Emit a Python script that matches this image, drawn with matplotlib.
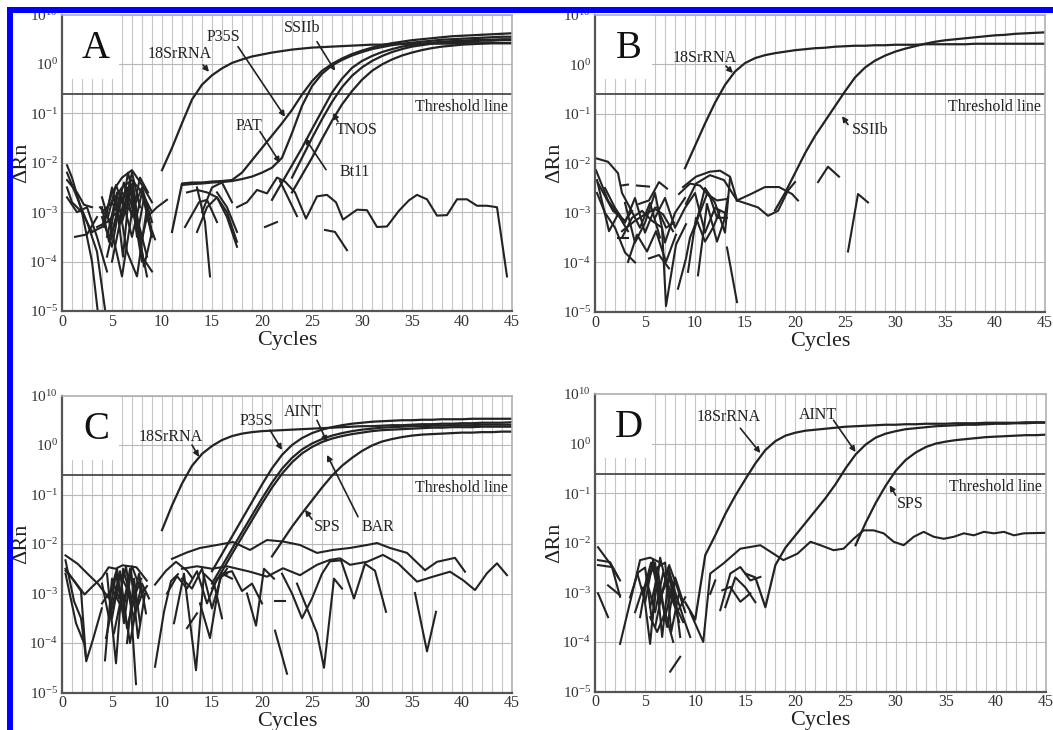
import numpy as np
import matplotlib
matplotlib.use('Agg')
from matplotlib import pyplot as plt
from matplotlib.patches import Rectangle
from matplotlib.ticker import MultipleLocator, FixedLocator, NullLocator

plt.rcParams['font.family'] = ['Liberation Serif', 'DejaVu Serif']
plt.rcParams['mathtext.fontset'] = 'custom'
plt.rcParams['mathtext.rm'] = 'Liberation Serif'
plt.rcParams['mathtext.it'] = 'Liberation Serif:italic'
plt.rcParams['mathtext.bf'] = 'Liberation Serif:bold'

# all curve values are log10(ΔRn); x = cycle number
THRESHOLD = 0.245
ytick_labels = ['10$^{-5}$', '10$^{-4}$', '10$^{-3}$', '10$^{-2}$', '10$^{-1}$', '10$^{0}$', '10$^{10}$']

# ---------- panel A ----------
A_18S_start = 10
A_18S = [-2.15, -1.7, -1.2, -0.72, -0.42, -0.23, -0.09, 0.02, 0.09, 0.15, 0.19, 0.23, 0.26, 0.29, 0.31,
         0.33, 0.34, 0.35, 0.36, 0.37, 0.38, 0.39, 0.39, 0.4, 0.4, 0.4, 0.41, 0.41, 0.41, 0.41,
         0.42, 0.42, 0.42, 0.42, 0.42, 0.42]
A_P35S_start = 11
A_P35S = [-3.4, -2.42, -2.4, -2.4, -2.38, -2.37, -2.35, -2.2, -1.95, -1.7, -1.45, -1.2, -0.93, -0.62, -0.35,
          -0.14, 0.0, 0.11, 0.2, 0.27, 0.33, 0.38, 0.42, 0.45, 0.48, 0.5, 0.52, 0.54, 0.56, 0.57,
          0.58, 0.59, 0.6, 0.61, 0.62]
A_PAT_start = 12
A_PAT = [-2.45, -2.43, -2.42, -2.4, -2.39, -2.37, -2.33, -2.28, -2.2, -2.1, -1.9, -1.4, -0.85, -0.45, -0.2,
         -0.03, 0.08, 0.17, 0.24, 0.3, 0.34, 0.38, 0.41, 0.43, 0.45, 0.47, 0.49, 0.5, 0.51, 0.52,
         0.53, 0.54, 0.55, 0.55]
A_SSIIb_start = 21
A_SSIIb = [-2.75, -2.4, -2.05, -1.7, -1.32, -0.95, -0.58, -0.3, -0.08, 0.06, 0.16, 0.24, 0.3, 0.35, 0.38,
           0.41, 0.43, 0.45, 0.46, 0.47, 0.48, 0.49, 0.49, 0.5, 0.5]
A_Bt11_start = 23
A_Bt11 = [-2.3, -1.9, -1.5, -1.12, -0.77, -0.47, -0.24, -0.07, 0.06, 0.16, 0.24, 0.3, 0.35, 0.38, 0.41,
          0.43, 0.44, 0.45, 0.46, 0.47, 0.47, 0.48, 0.48]
A_TNOS_start = 23
A_TNOS = [-2.6, -2.25, -1.9, -1.52, -1.15, -0.82, -0.55, -0.32, -0.14, -0.01, 0.09, 0.17, 0.23, 0.28, 0.32,
          0.35, 0.37, 0.39, 0.4, 0.41, 0.42, 0.42, 0.42]
A_noise = [
    ([0.5, 1, 2, 3, 3.8], [-2.05, -2.3, -3.0, -4.0, -5.4]),
    ([0.5, 1.5, 2.5, 3.5, 4.6], [-2.2, -2.7, -3.2, -3.8, -5.4]),
    ([0.5, 1, 2, 3], [-2.5, -2.8, -3.0, -3.4]),
    ([0.5, 1.5, 2.5, 3.5, 4.5], [-2.7, -3.0, -2.9, -3.5, -4.2]),
    ([1.3, 2.5, 3.5], [-3.5, -3.45, -3.1]),
    ([0.5, 1.5, 2.2, 3.0], [-2.35, -2.6, -2.85, -2.9]),
    ([3, 4, 5, 6, 7, 8, 9], [-3.4, -3.3, -2.6, -2.3, -2.15, -2.45, -2.8]),
    ([4, 5, 6, 7, 8, 9], [-3.0, -2.8, -2.5, -2.35, -2.6, -3.5]),
    ([4.5, 5.5, 6.5, 7.5, 8.5], [-3.9, -3.0, -2.5, -3.3, -4.3]),
    ([4, 5, 6, 7, 8, 9], [-2.7, -3.4, -4.3, -3.0, -2.5, -3.2]),
    ([4.5, 5.5, 6.5, 7.5, 8.5], [-3.5, -2.6, -3.8, -4.3, -2.9]),
    ([5, 6, 7, 8, 9], [-2.8, -3.2, -2.5, -3.9, -4.2]),
    ([4, 5, 6, 7, 8], [-3.1, -3.7, -2.6, -2.8, -4.0]),
    ([5, 6, 7, 8, 9], [-3.4, -2.7, -3.5, -2.6, -3.0]),
    ([3.5, 4.5, 5.5, 6.5, 7.5, 8.5], [-3.3, -3.2, -3.0, -2.9, -3.1, -3.9]),
    ([5.5, 6.2, 7, 7.8, 8.6], [-2.9, -2.4, -3.1, -2.3, -2.6]),
    ([4, 4.7, 5.4, 6.1, 6.8, 7.5, 8.2, 8.9], [-2.9, -3.6, -2.7, -3.9, -2.4, -3.5, -2.7, -3.3]),
    ([4.2, 5, 5.8, 6.6, 7.4, 8.2, 9], [-3.3, -2.5, -3.2, -2.2, -2.9, -4.1, -3.4]),
    ([5, 5.7, 6.4, 7.1, 7.8, 8.5], [-4.0, -3.3, -2.8, -2.4, -3.7, -3.1]),
    ([3.8, 4.6, 5.4, 6.2, 7, 7.8], [-2.9, -3.1, -2.45, -2.9, -2.2, -2.9]),
    ([8.5, 9.5, 10.5], [-3.1, -2.9, -2.75]),
    ([8.5, 9.3], [-3.1, -3.55]),
    ([12.3, 13.7, 14.5, 15.5], [-3.3, -2.8, -2.75, -3.2]),
    ([13.5, 14.5, 15.5, 16.5, 17.5], [-3.4, -2.9, -2.7, -3.1, -3.7]),
    ([13.5, 14.3, 14.8], [-2.5, -3.2, -4.3]),
    ([15.5, 16.5, 17.5], [-2.6, -2.9, -3.4]),
    ([14, 15, 16, 17], [-3.0, -2.5, -2.4, -2.8]),
    ([12.5, 13.5, 14.5, 15.5, 16.5, 17.5], [-2.6, -2.55, -2.6, -2.7, -3.0, -3.6]),
    ([20.3, 21.5], [-3.3, -3.2]),
    ([21.8, 23.5], [-2.37, -3.08]),
    ([26.3, 27.3, 28.5], [-3.36, -3.4, -3.77]),
    ([17.5, 18.5, 19.5, 20.5, 21.5, 22.3, 23.3, 24.4, 25.5, 26.5, 27.4, 28.1, 29.5, 30.5, 31.5, 32.5,
      33.7, 34.7, 35.5, 36.5, 37.5, 38.5, 39.5, 40.5, 41.5, 42.5, 43.5, 44.5],
     [-2.9, -2.8, -2.55, -2.62, -2.3, -2.38, -2.6, -3.13, -2.68, -2.65, -2.8, -3.15, -2.95, -2.96, -3.3, -3.29,
      -2.97, -2.76, -2.65, -2.74, -3.07, -3.06, -2.74, -2.74, -2.87, -2.87, -2.9, -4.3]),
]

# ---------- panel B ----------
B_18S_start = 9
B_18S = [-2.1, -1.65, -1.2, -0.78, -0.42, -0.15, 0.02, 0.12, 0.18, 0.22, 0.25, 0.28, 0.3, 0.32, 0.33,
         0.35, 0.36, 0.37, 0.37, 0.38, 0.38, 0.39, 0.39, 0.39, 0.4, 0.4, 0.4, 0.4, 0.4, 0.41,
         0.41, 0.41, 0.41, 0.41, 0.41, 0.41, 0.41]
B_SSIIb_start = 18
B_SSIIb = [-2.95, -2.6, -2.2, -1.8, -1.45, -1.15, -0.85, -0.55, -0.27, -0.07, 0.07, 0.17, 0.25, 0.31, 0.36,
           0.41, 0.45, 0.48, 0.5, 0.52, 0.54, 0.56, 0.58, 0.59, 0.61, 0.62, 0.63, 0.64]
B_noise = [
    ([0.1, 1.3, 2.3, 2.7, 3.5], [-1.9, -1.97, -2.2, -2.6, -2.9]),
    ([0.1, 1.3, 2.5, 3.3], [-2.14, -2.75, -3.1, -3.37]),
    ([0.2, 1.4, 2.3], [-2.34, -3.37, -3.03]),
    ([0.3, 1.8, 3.0, 3.7], [-2.4, -2.96, -3.16, -2.96]),
    ([0.2, 1, 2, 3, 4], [-2.6, -3.0, -3.3, -3.8, -4.0]),
    ([1, 2, 3, 4, 5, 6], [-2.5, -2.9, -3.2, -2.7, -3.4, -2.9]),
    ([2.6, 3.3], [-2.45, -2.43]),
    ([4.2, 5.4], [-2.45, -2.47]),
    ([2.3, 3.3], [-3.5, -3.5]),
    ([3.5, 4.5, 5.5, 6.5], [-2.9, -3.3, -2.8, -3.5]),
    ([3, 4, 5, 6, 7, 8, 9], [-2.8, -3.6, -3.2, -2.6, -3.6, -3.0, -2.7]),
    ([2.7, 3.7, 4.7, 5.7, 6.7, 7.1, 8.1, 9.1], [-3.5, -3.1, -2.96, -3.16, -3.3, -4.88, -3.64, -3.23]),
    ([3.3, 4.2, 5.2, 6.1, 7.1, 8.1], [-3.99, -3.44, -3.78, -3.37, -3.99, -3.44]),
    ([2.7, 4, 5, 6, 6.8, 7.8], [-3.37, -3.16, -3.03, -2.92, -3.03, -3.37]),
    ([4.4, 5.4, 6.4, 7.2], [-2.82, -2.75, -2.38, -2.51]),
    ([5.4, 6.4, 7.4], [-3.92, -3.85, -4.12]),
    ([6, 7, 8, 9, 10, 11, 12, 13], [-3.1, -2.7, -3.3, -2.9, -2.6, -3.4, -2.9, -3.0]),
    ([10, 11, 12, 13, 13.5], [-3.3, -2.5, -2.8, -3.4, -2.3]),
    ([8.4, 9.5, 10.5, 11.5, 12.2, 13.2], [-2.62, -2.41, -2.45, -2.68, -3.1, -3.1]),
    ([8.8, 10.1, 11.5, 12.5, 13.5, 14.2], [-2.48, -2.27, -2.17, -2.15, -2.27, -2.75]),
    ([9.1, 10.1, 11.5, 12.9, 14.2], [-2.82, -2.41, -2.24, -2.34, -2.75]),
    ([8.3, 9.1, 9.5, 10.3, 11.2, 12.2, 13.2], [-4.53, -3.92, -3.5, -3.1, -2.62, -2.75, -2.72]),
    ([9.3, 10.1, 11, 11.8, 12.5], [-4.19, -3.1, -3.58, -3.3, -2.96]),
    ([10.3, 11.2, 12.2, 12.9, 13.3], [-4.26, -2.82, -3.58, -3.16, -2.68]),
    ([6.2, 7.1, 7.9], [-2.89, -3.3, -3.2]),
    ([13.2, 14.2], [-3.7, -4.8]),
    ([14.2, 15.6, 17, 18.4, 19.7, 20.3], [-2.75, -2.62, -2.48, -2.48, -2.62, -2.75]),
    ([14.2, 16.3, 17.3, 18.3, 19.3, 20], [-2.75, -2.89, -3.06, -2.96, -2.55, -2.38]),
    ([22.3, 23.3, 24.4], [-2.38, -2.07, -2.27]),
    ([25.3, 26.3, 27.3], [-3.78, -2.62, -2.79]),
]

# ---------- panel C ----------
C_18S_start = 10
C_18S = [-1.72, -1.22, -0.78, -0.42, -0.18, -0.02, 0.1, 0.18, 0.23, 0.26, 0.28, 0.29, 0.3, 0.31, 0.32,
         0.33, 0.34, 0.35, 0.36, 0.37, 0.38, 0.38, 0.39, 0.4, 0.4, 0.41, 0.42, 0.42, 0.43, 0.43,
         0.44, 0.44, 0.45, 0.45, 0.45, 0.46]
C_P35S_start = 15
C_P35S = [-2.55, -2.2, -1.85, -1.5, -1.15, -0.8, -0.47, -0.2, 0.0, 0.14, 0.24, 0.31, 0.36, 0.4, 0.43,
          0.45, 0.47, 0.48, 0.49, 0.5, 0.5, 0.51, 0.51, 0.52, 0.52, 0.52, 0.53, 0.53, 0.53, 0.53, 0.53]
C_AINT_start = 15
C_AINT = [-2.8, -2.45, -2.1, -1.76, -1.42, -1.08, -0.76, -0.48, -0.26, -0.09, 0.03, 0.12, 0.19, 0.24, 0.28,
          0.31, 0.33, 0.35, 0.36, 0.37, 0.38, 0.38, 0.39, 0.39, 0.4, 0.4, 0.4, 0.41, 0.41, 0.41, 0.41]
C_BAR_start = 15
C_BAR = [-2.9, -2.55, -2.2, -1.86, -1.52, -1.18, -0.86, -0.58, -0.35, -0.17, -0.04, 0.06, 0.13, 0.18, 0.22,
         0.25, 0.28, 0.3, 0.31, 0.32, 0.33, 0.34, 0.35, 0.35, 0.36, 0.36, 0.36, 0.37, 0.37, 0.37, 0.37]
C_SPS_start = 21
C_SPS = [-2.25, -1.95, -1.65, -1.38, -1.12, -0.86, -0.62, -0.42, -0.26, -0.12, -0.01, 0.07, 0.12, 0.16, 0.19,
         0.21, 0.22, 0.23, 0.24, 0.25, 0.25, 0.26, 0.26, 0.27, 0.27]
C_noise = [
    ([0.35, 1.56, 2.6, 3.63, 4.67], [-2.23, -2.4, -2.61, -2.81, -3.09]),
    ([0.35, 1.21, 1.9, 2.42], [-2.33, -3.16, -3.5, -4.33]),
    ([0.35, 1.9, 2.42, 3.11, 3.98], [-2.5, -2.95, -4.37, -3.92, -3.3]),
    ([0.35, 1.21, 2.25, 2.94, 3.98, 4.67, 5.36, 6.06, 7.44, 8.48],
     [-2.54, -2.74, -3.02, -2.88, -2.68, -2.47, -2.5, -2.43, -2.47, -2.74]),
    ([0.35, 1.4, 2.2], [-2.6, -3.6, -4.0]),
    ([4.3, 5.0, 5.7, 6.4, 7.0, 7.7, 8.4], [-4.35, -2.7, -3.1, -2.45, -3.3, -2.6, -3.4]),
    ([4.5, 5.4, 6.1, 6.8, 7.4], [-2.6, -4.41, -2.5, -3.0, -4.83]),
    ([4.8, 5.5, 6.2, 6.9, 7.6, 8.3], [-3.0, -2.5, -3.6, -2.55, -3.9, -3.0]),
    ([5, 5.8, 6.5, 7.2, 8, 8.7], [-3.5, -2.6, -2.9, -3.5, -2.8, -3.1]),
    ([4, 5, 6, 7, 8, 8.5], [-3.2, -2.9, -3.3, -2.45, -3.0, -2.85]),
    ([5.2, 6, 6.8, 7.5], [-3.8, -3.0, -4.0, -3.2]),
    ([6.5, 7.2, 7.8], [-4.0, -2.7, -3.6]),
    ([4, 4.7, 5.4, 6.1, 6.8, 7.5, 8.2], [-2.8, -3.5, -2.6, -3.4, -2.5, -3.3, -2.9]),
    ([4.4, 5.1, 5.8, 6.5, 7.2, 7.9], [-3.9, -3.2, -2.55, -3.7, -3.1, -2.7]),
    ([9.3, 10.2, 10.9, 11.6], [-4.48, -3.37, -2.75, -2.61]),
    ([9.3, 10.4, 11.4, 12.5, 13.0], [-2.82, -2.54, -2.36, -2.54, -2.68]),
    ([11.2, 12.2, 13.4, 14.2, 15.2, 16.0], [-3.6, -2.6, -4.55, -2.6, -2.8, -3.5]),
    ([12.5, 13.5], [-3.7, -3.4]),
    ([10.5, 11.5, 12.5, 13.5, 14.5, 15.5, 16.5], [-3.0, -2.65, -2.9, -2.55, -3.2, -2.7, -2.6]),
    ([12, 13, 14, 15, 16, 17], [-2.7, -2.9, -2.5, -3.3, -2.6, -2.7]),
    ([13.8, 14.8, 15.8, 16.5], [-3.2, -3.9, -2.7, -2.5]),
    ([16, 17, 18, 19, 20], [-2.6, -2.55, -2.95, -2.8, -3.2]),
    ([18.5, 19.4, 20.2, 21.2], [-3.0, -3.65, -2.5, -2.7]),
    ([21.3, 22.5], [-3.75, -4.62]),
    ([21.3, 22.3], [-3.16, -3.16]),
    ([22.0, 23.0, 24.0, 25.0, 26.0, 26.8, 27.9], [-2.6, -3.0, -3.5, -3.1, -2.6, -2.35, -2.33]),
    ([23.5, 24.5, 25.5, 26.2, 27.2, 28.0], [-2.8, -3.3, -3.8, -4.5, -2.7, -2.9]),
    ([27.9, 29.2, 30.3, 31.3, 32.4], [-2.33, -3.1, -2.4, -2.54, -3.37]),
    ([35.3, 36.5, 37.4], [-2.99, -4.17, -3.37]),
    ([11, 12.5, 13.8, 15.5, 17.1, 18.8, 20.5, 22.1, 23.8, 25.5, 27.1, 28.8, 30.5, 31.5, 32.8, 34.5,
      36.3, 37.5, 39.3, 40.3],
     [-2.3, -2.17, -2.08, -2.02, -1.96, -2.12, -1.92, -1.95, -2.02, -2.18, -2.12, -2.08, -2.02, -1.98, -2.08,
      -2.18, -2.53, -2.36, -2.28, -2.56]),
    ([12, 13.5, 15, 16.5, 18.8, 20.5, 22.1, 23.8, 25.5, 26.8, 27.8, 28.8, 30.5, 32.1, 33.6, 35.5, 37.1,
      38.8, 40.1, 41.3, 42.5, 43.5, 44.5],
     [-2.5, -2.45, -2.5, -2.45, -2.56, -2.66, -2.49, -2.63, -2.42, -2.32, -2.29, -2.42, -2.36, -2.22, -2.39,
      -2.76, -2.66, -2.56, -2.73, -2.93, -2.59, -2.39, -2.63]),
]

# ---------- panel D ----------
D_18S_start = 9
D_18S = [-3.2, -3.55, -2.25, -1.85, -1.42, -1.05, -0.72, -0.4, -0.13, 0.05, 0.16, 0.22, 0.26, 0.28, 0.3,
         0.32, 0.34, 0.35, 0.36, 0.37, 0.38, 0.38, 0.39, 0.39, 0.4, 0.4, 0.4, 0.41, 0.41, 0.41,
         0.42, 0.42, 0.42, 0.42, 0.43, 0.43, 0.43]
D_AINT_start = 15
D_AINT = [-2.62, -2.7, -3.3, -2.45, -2.1, -1.85, -1.6, -1.35, -1.1, -0.82, -0.5, -0.22, -0.02, 0.12, 0.2,
          0.25, 0.29, 0.31, 0.33, 0.35, 0.36, 0.37, 0.38, 0.38, 0.39, 0.4, 0.4, 0.41, 0.41, 0.42, 0.42]
D_SPS_start = 26
D_SPS = [-2.05, -1.6, -1.2, -0.85, -0.55, -0.33, -0.18, -0.07, 0.0, 0.04, 0.07, 0.09, 0.11, 0.13, 0.14,
         0.15, 0.16, 0.17, 0.17, 0.18]
D_noise = [
    ([0.3, 1.5, 2.5], [-2.09, -2.42, -2.76]),
    ([0.3, 1.5, 2.3], [-2.35, -2.39, -2.69]),
    ([0.3, 1.7, 2.5], [-2.45, -2.49, -3.09]),
    ([0.3, 1.3], [-3.02, -3.5]),
    ([1.3, 2.5], [-2.86, -3.06]),
    ([2.5, 3.5, 4.5, 5.5, 6.5], [-4.04, -3.2, -2.35, -2.3, -2.4]),
    ([3.5, 4.3, 5, 5.7, 6.5, 7.2, 8], [-3.1, -2.6, -2.5, -3.6, -2.3, -2.9, -3.3]),
    ([4, 4.8, 5.5, 6.2, 7, 7.6, 8.4], [-3.4, -2.9, -4.04, -2.5, -2.4, -3.8, -3.0]),
    ([4.5, 5.2, 6, 6.7, 7.4, 8.1, 8.8], [-3.5, -2.7, -2.4, -3.9, -2.6, -3.3, -3.6]),
    ([5, 5.8, 6.5, 7.3, 8, 8.8, 9.5], [-2.9, -2.5, -3.2, -2.5, -3.0, -3.5, -3.9]),
    ([5.5, 6.3, 7, 7.8, 8.5], [-3.3, -2.6, -3.5, -2.8, -3.9]),
    ([6, 6.7, 7.4, 8.2, 9], [-3.7, -3.0, -2.7, -3.4, -3.1]),
    ([4.2, 5, 5.8, 6.6, 7.4, 8.2, 9], [-2.6, -3.2, -2.35, -3.1, -2.45, -2.9, -3.4]),
    ([4.8, 5.6, 6.4, 7.2, 8, 8.8], [-3.0, -2.4, -2.9, -3.7, -2.7, -3.2]),
    ([5.2, 6, 6.8, 7.6, 8.4], [-2.8, -3.4, -2.6, -3.0, -3.6]),
    ([7.5, 8.5], [-4.6, -4.3]),
    ([5.5, 6.2, 7, 7.8], [-3.5, -3.8, -3.4, -4.0]),
    ([9.5, 10.8, 11.5, 12.8, 14.5, 16.5, 18.8, 20.2, 21.5, 22.5, 23.8, 24.8, 25.8, 26.8, 27.8, 28.8,
      29.8, 30.8, 31.8, 32.8, 33.8, 34.8, 35.8, 36.8, 37.8, 38.8, 39.8, 40.8, 41.8, 42.8, 45],
     [-3.4, -4.0, -2.62, -2.42, -2.12, -2.05, -2.35, -2.22, -1.98, -2.05, -2.15, -2.12, -1.92, -1.75, -1.75,
      -1.81, -1.98, -2.05, -1.88, -1.78, -1.88, -1.92, -1.88, -1.81, -1.85, -1.78, -1.81, -1.78, -1.85,
      -1.81, -1.8]),
    ([12.5, 13.5, 14.5, 15.5, 16.5], [-3.36, -2.62, -2.49, -2.76, -2.69]),
    ([12.7, 13.5, 14.5, 15.5], [-2.96, -2.89, -3.19, -3.02]),
    ([13, 14, 15, 16], [-3.3, -2.7, -2.9, -3.2]),
    ([11.5, 12.0], [-3.03, -2.76]),
]

# label, text pos, arrow tail, arrow head  (x in cycles, y as log10)
A_ann = [('18SrRNA', 11.8, 0.2, 14.1, -0.02, 14.7, -0.16),
         ('P35S', 16.1, 0.55, 17.6, 0.35, 22.3, -1.07),
         ('SSIIb', 24.0, 0.73, 25.5, 0.45, 27.3, -0.14),
         ('PAT', 18.7, -1.25, 19.8, -1.37, 21.8, -2.0),
         ('TNOS', 29.5, -1.33, 27.6, -1.17, 27.1, -0.99),
         ('Bt11', 29.3, -2.18, 26.4, -2.14, 24.3, -1.5)]
B_ann = [('18SrRNA', 11.0, 0.12, 13.1, -0.04, 13.8, -0.18),
         ('SSIIb', 27.5, -1.33, 25.3, -1.22, 24.7, -1.05)]
C_ann = [('18SrRNA', 10.9, 0.16, 13.0, 0.0, 13.7, -0.24),
         ('P35S', 19.4, 0.49, 20.8, 0.3, 22.0, -0.1),
         ('AINT', 24.1, 0.67, 25.5, 0.5, 26.5, 0.06),
         ('BAR', 31.6, -1.65, 29.6, -1.45, 26.5, -0.2),
         ('SPS', 26.5, -1.66, 25.0, -1.5, 24.3, -1.31)]
D_ann = [('18SrRNA', 13.3, 0.54, 14.5, 0.31, 16.5, -0.19),
         ('AINT', 22.2, 0.58, 23.8, 0.47, 26.0, -0.17),
         ('SPS', 31.5, -1.22, 30.0, -1.04, 29.4, -0.84)]

LINE = '#232323'
W, H = 1053, 730
fig = plt.figure(figsize=(W / 100, H / 100), dpi=100)


def panel(left, right, top, bottom):
    ax = fig.add_axes([left / W, 1 - bottom / H, (right - left) / W, (bottom - top) / H])
    ax.set_yscale('log')
    ax.set_xlim(0, 45)
    ax.set_ylim(1e-5, 10)
    ax.xaxis.set_major_locator(MultipleLocator(5))
    ax.xaxis.set_minor_locator(MultipleLocator(1))
    ax.yaxis.set_major_locator(FixedLocator(10.0 ** np.arange(-5, 2)))
    ax.yaxis.set_minor_locator(NullLocator())
    ax.set_yticklabels(ytick_labels)
    ax.tick_params(which='both', length=0)
    ax.tick_params(axis='x', labelsize=11.5, pad=2, colors='#333333')
    ax.tick_params(axis='y', labelsize=11, pad=3, colors='#333333')
    ax.set_axisbelow(True)
    ax.grid(which='both', axis='x', color='#c6c6c6', lw=0.8)
    ax.grid(which='major', axis='y', color='#b8b8b8', lw=0.8)
    for s in ['left', 'bottom']:
        ax.spines[s].set_color('#555555')
        ax.spines[s].set_linewidth(1.6)
    for s in ['top', 'right']:
        ax.spines[s].set_color('#b0b0b0')
        ax.spines[s].set_linewidth(1.2)
    # white box behind the panel letter
    ax.add_patch(Rectangle((0, 10 ** -0.3), 5.7, 10 - 10 ** -0.3, facecolor='white',
                           edgecolor='none', zorder=1))
    ax.axhline(THRESHOLD, color='#4a4a4a', lw=1.3, zorder=1.5)
    ax.text(44.6, 10 ** -0.87, 'Threshold line', ha='right', va='center', fontsize=11.5,
            color='#222222', zorder=3)
    ax.text(-0.09, 0.5, 'ΔRn', transform=ax.transAxes, rotation=90, ha='center', va='center',
            fontsize=16, color='#222222')
    ax.text(0.5, -0.098, 'Cycles', transform=ax.transAxes, ha='center', va='center',
            fontsize=16, color='#222222')
    return ax


def draw(ax, letter, curves, noise, ann):
    for cx, cy in noise:
        ax.plot(cx, 10.0 ** np.array(cy), color=LINE, lw=1.5, zorder=2)
    for start, vals in curves:
        x = start + np.arange(len(vals))
        ax.plot(x, 10.0 ** np.array(vals), color=LINE, lw=1.6, zorder=2.2)
    ax.text(3.4, 10 ** 0.32, letter, fontsize=28, ha='center', va='center', color='#111111', zorder=3)
    for lab, tx, ty, ax0, ay0, hx, hy in ann:
        ax.text(tx, 10 ** ty, lab, fontsize=11.5, ha='center', va='center', color='#222222', zorder=3)
        ax.annotate('', xy=(hx, 10 ** hy), xytext=(ax0, 10 ** ay0),
                    arrowprops=dict(arrowstyle='-|>', color='#222222', lw=1.2,
                                    mutation_scale=8, shrinkA=0, shrinkB=0), zorder=3)


axA = panel(62, 512, 14.5, 311)
draw(axA, 'A', [(A_18S_start, A_18S), (A_P35S_start, A_P35S), (A_PAT_start, A_PAT),
                (A_SSIIb_start, A_SSIIb), (A_Bt11_start, A_Bt11), (A_TNOS_start, A_TNOS)],
     A_noise, A_ann)

axB = panel(595, 1045, 14.5, 312)
draw(axB, 'B', [(B_18S_start, B_18S), (B_SSIIb_start, B_SSIIb)], B_noise, B_ann)

axC = panel(62, 512, 395.5, 692.5)
draw(axC, 'C', [(C_18S_start, C_18S), (C_P35S_start, C_P35S), (C_AINT_start, C_AINT),
                (C_BAR_start, C_BAR), (C_SPS_start, C_SPS)], C_noise, C_ann)

axD = panel(595, 1046, 394, 691.5)
draw(axD, 'D', [(D_18S_start, D_18S), (D_AINT_start, D_AINT), (D_SPS_start, D_SPS)], D_noise, D_ann)

# blue frame along the top and left edges
fig.add_artist(Rectangle((7 / W, 0), 6 / W, (H - 7) / H, transform=fig.transFigure,
                         facecolor='#0000ff', edgecolor='none', zorder=20))
fig.add_artist(Rectangle((7 / W, 1 - 13 / H), (W - 7) / W, 6 / H, transform=fig.transFigure,
                         facecolor='#0000ff', edgecolor='none', zorder=20))

fig.savefig('out.png', dpi=100)
